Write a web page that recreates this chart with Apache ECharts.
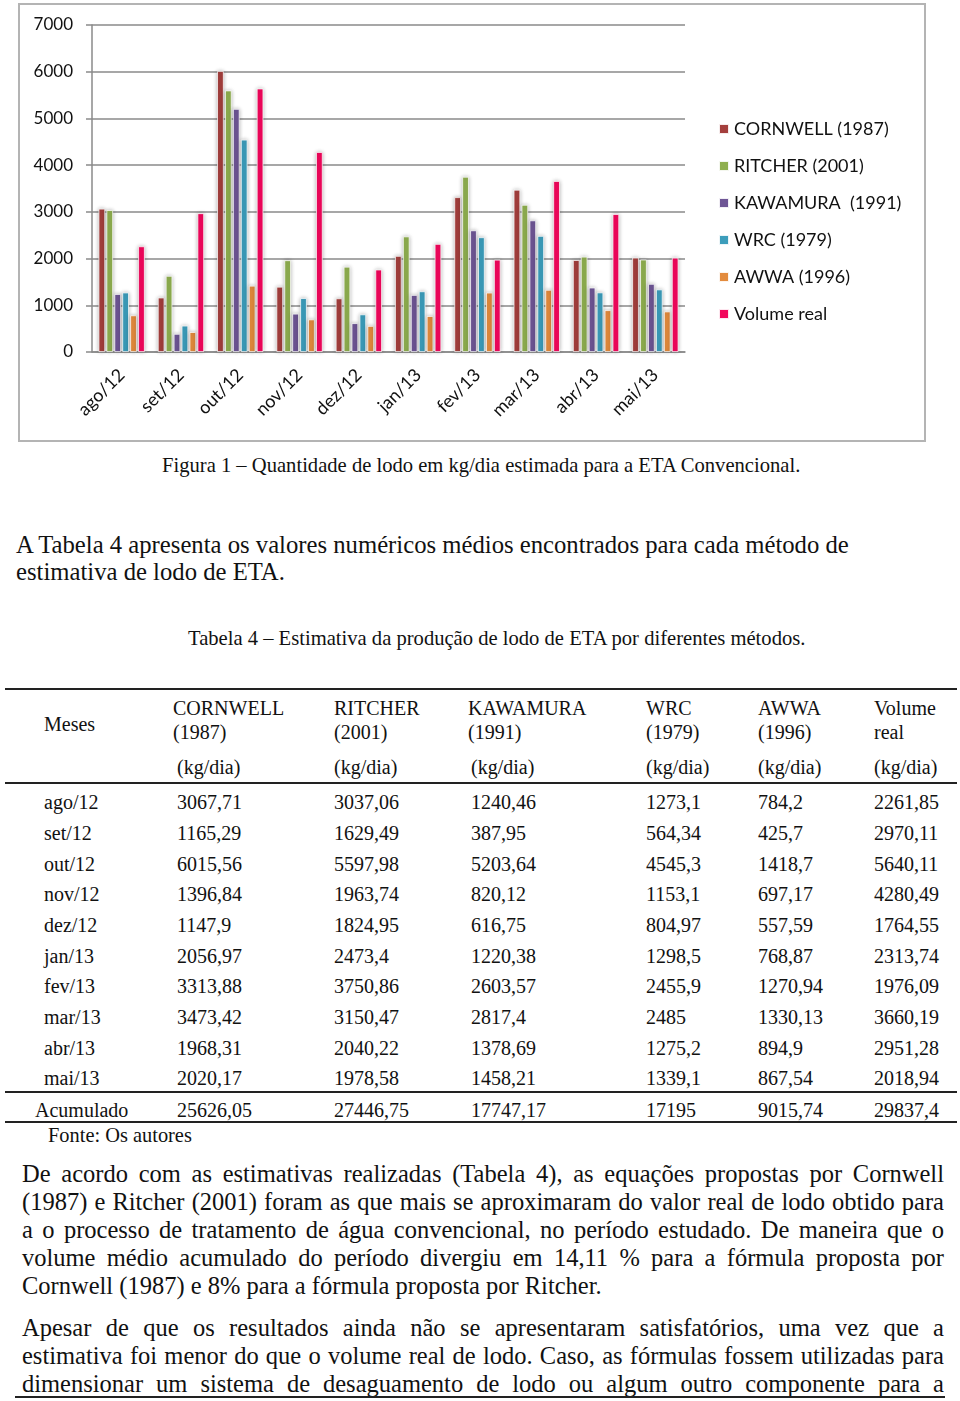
<!DOCTYPE html>
<html>
<head>
<meta charset="utf-8">
<script src="https://cdn.jsdelivr.net/npm/echarts@6/dist/echarts.min.js"></script>
<style>
  html, body { margin: 0; padding: 0; background: #fff; }
  body { width: 960px; height: 1401px; position: relative; overflow: hidden; font-family: "Liberation Serif", "Times New Roman", serif; color: #111; }
  #frame { position: absolute; left: 18px; top: 3px; width: 904px; height: 435px; border: 2px solid #b4b4b4; }
  #chart { position: absolute; left: 0; top: 0; width: 960px; height: 445px; }
  .t { position: absolute; white-space: nowrap; }
  .hl { position: absolute; left: 5px; width: 952px; background: #222; }
  .jl { position: absolute; left: 22px; width: 922px; white-space: nowrap; text-align: justify; text-align-last: justify; font-size: 24.5px; line-height: 28px; }
  .jl.last { text-align-last: left; }
</style>
</head>
<body>
<div id="frame"></div>
<div id="chart"></div>
<div id="doc"></div>
<script>
const categories = ['ago/12', 'set/12', 'out/12', 'nov/12', 'dez/12', 'jan/13', 'fev/13', 'mar/13', 'abr/13', 'mai/13'];
const cornwell   = [3067.71, 1165.29, 6015.56, 1396.84, 1147.9, 2056.97, 3313.88, 3473.42, 1968.31, 2020.17];
const ritcher    = [3037.06, 1629.49, 5597.98, 1963.74, 1824.95, 2473.4, 3750.86, 3150.47, 2040.22, 1978.58];
const kawamura   = [1240.46, 387.95, 5203.64, 820.12, 616.75, 1220.38, 2603.57, 2817.4, 1378.69, 1458.21];
const wrc        = [1273.1, 564.34, 4545.3, 1153.1, 804.97, 1298.5, 2455.9, 2485, 1275.2, 1339.1];
const awwa       = [784.2, 425.7, 1418.7, 697.17, 557.59, 768.87, 1270.94, 1330.13, 894.9, 867.54];
const volumeReal = [2261.85, 2970.11, 5640.11, 4280.49, 1764.55, 2313.74, 1976.09, 3660.19, 2951.28, 2018.94];
const acumulado  = [25626.05, 27446.75, 17747.17, 17195, 9015.74, 29837.4];
const seriesNames = ['CORNWELL (1987)', 'RITCHER (2001)', 'KAWAMURA  (1991)', 'WRC (1979)', 'AWWA (1996)', 'Volume real'];
const seriesColors = ['#A43F3D', '#8FAF4F', '#6E5595', '#3C9DBB', '#E38B3D', '#F2075C'];
const headerTop = ['CORNWELL', 'RITCHER', 'KAWAMURA', 'WRC', 'AWWA', 'Volume'];
const headerMid = ['(1987)', '(2001)', '(1991)', '(1979)', '(1996)', 'real'];
const unitLabel = '(kg/dia)';

const seriesData = [cornwell, ritcher, kawamura, wrc, awwa, volumeReal];

const chart = echarts.init(document.getElementById('chart'), null, { renderer: 'canvas' });
chart.setOption({
  animation: false,
  textStyle: { fontFamily: 'Lato, "Open Sans", sans-serif' },
  grid: { left: 92, right: 275, top: 25, bottom: 93, containLabel: false },
  legend: {
    orient: 'vertical', left: 718, top: 120, padding: 0,
    itemWidth: 10, itemHeight: 10, itemGap: 19,
    icon: 'rect',
    textStyle: { fontSize: 18, color: '#111', fontFamily: 'Lato, "Open Sans", sans-serif' },
    data: seriesNames
  },
  xAxis: {
    type: 'category', data: categories,
    axisLine: { lineStyle: { color: '#8a8a8a', width: 1.5 } },
    axisTick: { show: false },
    axisLabel: { rotate: 45, fontSize: 18, color: '#111', margin: 20, interval: 0 }
  },
  yAxis: {
    type: 'value', min: 0, max: 7000, interval: 1000,
    axisLine: { show: true, lineStyle: { color: '#8a8a8a', width: 1.5 } },
    axisTick: { show: true, length: 6, lineStyle: { color: '#8a8a8a', width: 1.5 } },
    axisLabel: { fontSize: 17, color: '#111', margin: 19, formatter: (v) => String(v) },
    splitLine: { lineStyle: { color: '#8a8a8a', width: 1.5 } }
  },
  series: seriesNames.map((name, i) => ({
    name, type: 'bar', data: seriesData[i],
    barGap: '20%', barCategoryGap: '22%',
    itemStyle: { color: seriesColors[i], borderColor: 'rgba(255,255,255,0.9)', borderWidth: 0.8,
      shadowColor: 'rgba(0,0,0,0.3)', shadowBlur: 4 }
  }))
});

// ---------- document text & table ----------
const doc = document.getElementById('doc');
function addText(txt, left, centerY, size, extra) {
  const d = document.createElement('div');
  d.className = 't';
  d.textContent = txt;
  d.style.left = left + 'px';
  d.style.top = (centerY - size * 0.6) + 'px';
  d.style.fontSize = size + 'px';
  d.style.lineHeight = (size * 1.2) + 'px';
  if (extra) Object.assign(d.style, extra);
  doc.appendChild(d);
  return d;
}
function addLine(y, h, left, width) {
  const d = document.createElement('div');
  d.className = 'hl';
  d.style.top = y + 'px';
  d.style.height = h + 'px';
  if (left !== undefined) d.style.left = left + 'px';
  if (width !== undefined) d.style.width = width + 'px';
  doc.appendChild(d);
}
function fmt(v) { return String(v).replace('.', ','); }

addText('Figura 1 – Quantidade de lodo em kg/dia estimada para a ETA Convencional.', 162, 465, 20.6);
addText('A Tabela 4 apresenta os valores numéricos médios encontrados para cada método de', 16, 545, 24.7);
addText('estimativa de lodo de ETA.', 16, 572, 24.7);
addText('Tabela 4 – Estimativa da produção de lodo de ETA por diferentes métodos.', 188, 638, 20.6);

// table
addLine(688, 2);
addLine(782, 2);
addLine(1091, 2);
addLine(1121, 2);
const colHeadX = [173, 334, 468, 646, 758, 874];
const colUnitX = [177, 334, 471, 646, 758, 874];
const colValX  = [177, 334, 471, 646, 758, 874];
addText('Meses', 44, 724, 20);
headerTop.forEach((h, i) => addText(h, colHeadX[i], 708, 20));
headerMid.forEach((h, i) => addText(h, colHeadX[i], 732, 20));
colUnitX.forEach((x) => addText(unitLabel, x, 767, 20));
const rowY = [802, 833, 864, 894, 925, 956, 986, 1017, 1048, 1078];
categories.forEach((c, r) => {
  addText(c, 44, rowY[r], 20);
  seriesData.forEach((arr, i) => addText(fmt(arr[r]), colValX[i], rowY[r], 20));
});
addText('Acumulado', 35, 1110, 20);
acumulado.forEach((v, i) => addText(fmt(v), colValX[i], 1110, 20));
addText('Fonte: Os autores', 48, 1135, 20.4);

// justified paragraphs
const para1 = [
  'De acordo com as estimativas realizadas (Tabela 4), as equações propostas por Cornwell',
  '(1987) e Ritcher (2001) foram as que mais se aproximaram do valor real de lodo obtido para',
  'a o processo de tratamento de água convencional, no período estudado. De maneira que o',
  'volume médio acumulado do período divergiu em 14,11 % para a fórmula proposta por',
  'Cornwell (1987) e 8% para a fórmula proposta por Ritcher.'
];
const para2 = [
  'Apesar de que os resultados ainda não se apresentaram satisfatórios, uma vez que a',
  'estimativa foi menor do que o volume real de lodo. Caso, as fórmulas fossem utilizadas para',
  'dimensionar um sistema de desaguamento de lodo ou algum outro componente para a'
];
function addPara(lines, firstCenter, lastIsLeft) {
  lines.forEach((l, i) => {
    const d = document.createElement('div');
    d.className = 'jl' + (lastIsLeft && i === lines.length - 1 ? ' last' : '');
    d.textContent = l;
    d.style.top = (firstCenter + i * 28 - 14) + 'px';
    doc.appendChild(d);
  });
}
addPara(para1, 1174, true);
addPara(para2, 1328, false);
addLine(1396, 2, 15, 930);
</script>
</body>
</html>
